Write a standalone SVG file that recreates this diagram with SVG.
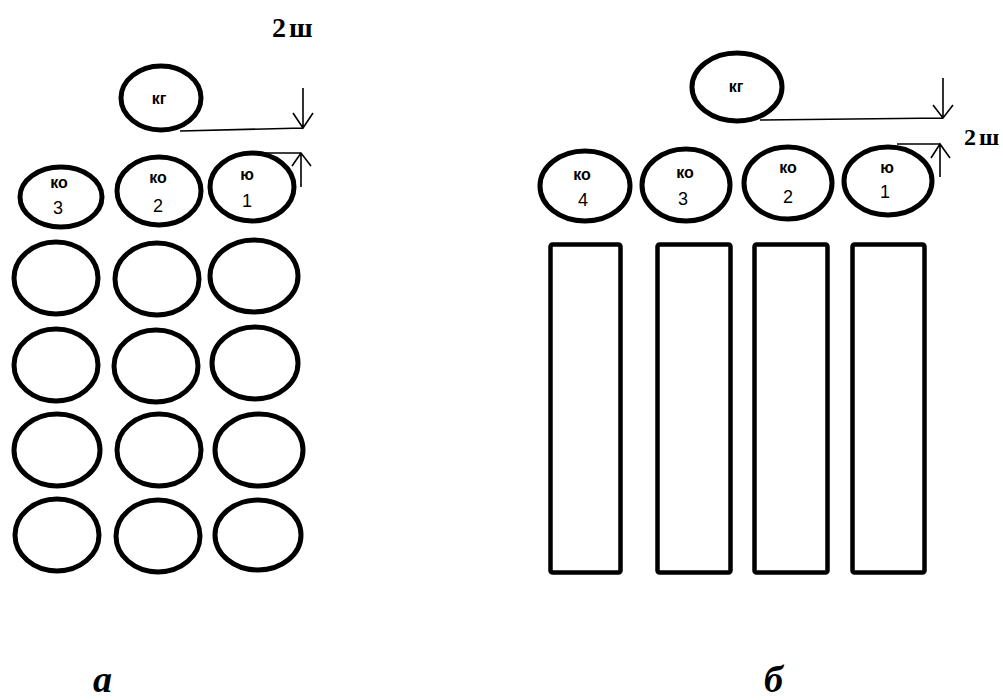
<svg xmlns="http://www.w3.org/2000/svg" width="1003" height="700" viewBox="0 0 1003 700">
<style>
.o{fill:#fff;stroke:#000;stroke-width:5}
.r{fill:#fff;stroke:#000;stroke-width:4.5}
.ln{fill:none;stroke:#000;stroke-width:1.6}
.ko{font-family:"Liberation Sans",Arial,sans-serif;font-weight:bold;font-size:16px;text-anchor:middle;fill:#000}
.n{font-family:"Liberation Sans",Arial,sans-serif;font-size:18px;text-anchor:middle;fill:#000}
.sh{font-family:"Liberation Serif","Times New Roman",serif;font-weight:bold;fill:#000}
.lab{font-family:"Liberation Serif","Times New Roman",serif;font-weight:bold;font-style:italic;font-size:38px;fill:#000}
</style>
<rect width="1003" height="700" fill="#fff"/>

<g id="connectors">
  <path class="ln" d="M180 131 L303 128 M303 88 V128 M293 113 L303 128 L313 113"/>
  <path class="ln" d="M263 153 H301 M301 153 V187 M292 166 L301 153 L311 166"/>
  <path class="ln" d="M760 120 L943 118 M943 78 V118 M933 105 L943 118 L953 105"/>
  <path class="ln" d="M897 144 H940 M940 144 V177 M931 158 L940 144 L950 158"/>
</g>

<g id="a-kg"><ellipse class="o" cx="161" cy="98" rx="40" ry="32"/><text class="ko" x="159" y="104">кг</text></g>
<g id="a-ko3"><ellipse class="o" cx="61" cy="197" rx="41" ry="30"/><text class="ko" x="59" y="188">ко</text><text class="n" x="58" y="214">3</text></g>
<g id="a-ko2"><ellipse class="o" cx="159" cy="191" rx="42" ry="34"/><text class="ko" x="158" y="183">ко</text><text class="n" x="158" y="212">2</text></g>
<g id="a-ko1"><ellipse class="o" cx="252" cy="187" rx="42" ry="34"/><text class="ko" x="247" y="180">ю</text><text class="n" x="247" y="207">1</text></g>

<g id="a-grid">
  <ellipse class="o" cx="56" cy="278" rx="42" ry="36"/>
  <ellipse class="o" cx="157" cy="279" rx="42" ry="36"/>
  <ellipse class="o" cx="254" cy="276" rx="44" ry="36"/>
  <ellipse class="o" cx="56" cy="365" rx="42" ry="36"/>
  <ellipse class="o" cx="156" cy="366" rx="42" ry="36"/>
  <ellipse class="o" cx="255" cy="363" rx="43" ry="36"/>
  <ellipse class="o" cx="57" cy="450" rx="43" ry="36"/>
  <ellipse class="o" cx="159" cy="450" rx="42" ry="36"/>
  <ellipse class="o" cx="259" cy="450" rx="44" ry="36"/>
  <ellipse class="o" cx="57" cy="535" rx="42" ry="36"/>
  <ellipse class="o" cx="158" cy="536" rx="42" ry="36"/>
  <ellipse class="o" cx="258" cy="535" rx="43" ry="35"/>
</g>

<g id="b-kg"><ellipse class="o" cx="737" cy="87" rx="45" ry="34"/><text class="ko" x="736" y="92">кг</text></g>
<g id="b-ko4"><ellipse class="o" cx="585" cy="186" rx="45" ry="35"/><text class="ko" x="582" y="180">ко</text><text class="n" x="583" y="206">4</text></g>
<g id="b-ko3"><ellipse class="o" cx="686" cy="185" rx="44" ry="36"/><text class="ko" x="685" y="178">ко</text><text class="n" x="683" y="205">3</text></g>
<g id="b-ko2"><ellipse class="o" cx="788" cy="183" rx="44" ry="36"/><text class="ko" x="788" y="173">ко</text><text class="n" x="788" y="203">2</text></g>
<g id="b-ko1"><ellipse class="o" cx="888" cy="181" rx="44" ry="34"/><text class="ko" x="887" y="173">ю</text><text class="n" x="885" y="198">1</text></g>

<g id="b-rows">
  <rect class="r" x="550.5" y="244.5" width="70" height="328" rx="2"/>
  <rect class="r" x="657.5" y="244.5" width="73" height="328" rx="2"/>
  <rect class="r" x="754.5" y="244.5" width="73" height="328" rx="2"/>
  <rect class="r" x="852.5" y="244.5" width="72" height="328" rx="2"/>
</g>

<text class="sh" x="272" y="37" font-size="28" word-spacing="-4">2 ш</text>
<text class="sh" x="964" y="145" font-size="24" word-spacing="-3">2 ш</text>
<text class="lab" x="93" y="692">а</text>
<text class="lab" x="764" y="692">б</text>
</svg>
